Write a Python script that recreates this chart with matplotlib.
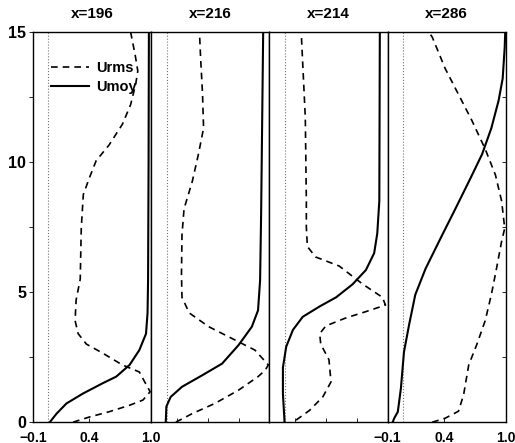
import numpy as np
import matplotlib
matplotlib.use('Agg')
import matplotlib.pyplot as plt
from matplotlib.ticker import MultipleLocator

plt.rcParams['font.family'] = ['Liberation Sans', 'DejaVu Sans']
plt.rcParams['font.weight'] = 'bold'

titles = ['x=196', 'x=216', 'x=214', 'x=286']

# Umoy (solid) profiles, value vs height
umoy_x = [
    [0.014, 0.08, 0.176, 0.336, 0.53, 0.66, 0.79, 0.885, 0.95, 0.965,
     0.97, 0.975, 0.978],
    [-0.008, -0.002, 0.04, 0.15, 0.346, 0.54, 0.70, 0.83, 0.89, 0.91,
     0.92, 0.94],
    [-0.002, -0.018, -0.018, 0.014, 0.08, 0.175, 0.34, 0.50, 0.66, 0.79,
     0.87, 0.90, 0.92, 0.925],
    [-0.10, -0.085, -0.05, -0.02, 0.01, 0.06, 0.12, 0.22, 0.37, 0.51,
     0.66, 0.77, 0.86, 0.93, 0.97, 0.99, 0.995],
]
umoy_y = [
    [0.0, 0.33, 0.72, 1.1, 1.5, 1.75, 2.2, 2.77, 3.4, 4.2,
     5.45, 10.0, 15.0],
    [0.0, 0.6, 0.97, 1.36, 1.8, 2.25, 2.96, 3.67, 4.3, 5.45,
     8.0, 15.0],
    [0.0, 1.1, 2.1, 2.9, 3.55, 4.05, 4.45, 4.8, 5.3, 5.85,
     6.5, 7.25, 8.5, 15.0],
    [0.0, 0.15, 0.4, 1.3, 2.7, 3.75, 4.9, 5.9, 7.1, 8.2,
     9.4, 10.3, 11.3, 12.35, 13.2, 14.4, 15.0],
]

# Urms (dashed) profiles
urms_x = [
    [0.24, 0.40, 0.59, 0.79, 0.92, 0.99, 0.93, 0.885, 0.72, 0.53, 0.37,
     0.29, 0.26, 0.27, 0.31, 0.32, 0.34, 0.40, 0.465, 0.59, 0.72, 0.80,
     0.85, 0.87, 0.845, 0.80],
    [0.09, 0.25, 0.47, 0.70, 0.89, 0.96, 0.99, 0.86, 0.67, 0.41, 0.22,
     0.15, 0.145, 0.15, 0.17, 0.25, 0.31, 0.36, 0.35, 0.33, 0.32],
    [0.11, 0.24, 0.37, 0.45, 0.43, 0.35, 0.34, 0.40, 0.59, 0.79, 0.98,
     0.95, 0.76, 0.53, 0.30, 0.22, 0.21, 0.21, 0.20, 0.16],
    [0.285, 0.41, 0.54, 0.59, 0.64, 0.72, 0.80, 0.86, 0.91, 0.96, 0.99,
     0.96, 0.90, 0.80, 0.67, 0.54, 0.41, 0.285, 0.25],
]
urms_y = [
    [0.0, 0.2, 0.4, 0.65, 0.85, 1.17, 1.6, 1.93, 2.2, 2.65, 3.0,
     3.4, 3.9, 4.7, 5.5, 7.45, 8.75, 9.4, 10.05, 10.65, 11.45, 12.2,
     13.0, 13.5, 14.1, 15.0],
    [0.0, 0.33, 0.72, 1.23, 1.75, 2.0, 2.2, 2.77, 3.15, 3.67, 4.2,
     4.8, 5.67, 7.2, 8.2, 9.25, 10.3, 11.3, 12.6, 14.1, 15.0],
    [0.08, 0.45, 0.97, 1.55, 2.4, 3.0, 3.4, 3.7, 4.0, 4.25, 4.5,
     4.8, 5.3, 6.0, 6.35, 6.75, 7.5, 8.5, 11.7, 15.0],
    [0.0, 0.15, 0.42, 1.05, 2.2, 3.0, 3.9, 4.9, 5.9, 6.95, 7.45,
     8.5, 9.5, 10.5, 11.6, 12.6, 13.6, 14.8, 15.0],
]

fig, axes = plt.subplots(1, 4, sharey=True, figsize=(5.15, 4.43), dpi=100)
fig.subplots_adjust(left=0.064, right=0.982, top=0.928, bottom=0.047,
                    wspace=0)

for i, ax in enumerate(axes):
    ax.axvline(0, color='0.45', lw=0.8, ls=':')
    ax.plot(urms_x[i], urms_y[i], color='k', ls='--', lw=1.2,
            dashes=(4, 3), label='Urms')
    ax.plot(umoy_x[i], umoy_y[i], color='k', ls='-', lw=1.5,
            label='Umoy')
    ax.set_xlim(-0.15, 1.0)
    ax.set_ylim(0, 15)
    ax.set_title(titles[i], fontsize=11, fontweight='bold', pad=10)
    ax.set_xticks([0.1, 0.4, 0.7])
    ax.set_xticklabels([])
    ax.tick_params(axis='x', direction='in', length=3, width=0.6)
    ax.tick_params(axis='y', which='both', left=False, right=False)
    for s in ax.spines.values():
        s.set_linewidth(1.0)

for ax in (axes[0], axes[3]):
    ax.set_xticks([-0.15, 0.4, 1.0])
    ax.set_xticklabels(['\u22120.1', '0.4', '1.0'], fontsize=10,
                       fontweight='bold')
    ax.tick_params(axis='x', direction='in', length=3, pad=6)

axes[0].yaxis.set_major_locator(MultipleLocator(5))
axes[0].yaxis.set_minor_locator(MultipleLocator(2.5))
axes[0].tick_params(axis='y', which='both', left=True, direction='out',
                    length=3, width=0.6, labelsize=11.5, pad=2)
for lab in axes[0].get_yticklabels():
    lab.set_fontweight('bold')
axes[3].tick_params(axis='y', which='both', right=True, direction='in',
                    length=3, width=0.6)

axes[0].legend(loc='upper left', bbox_to_anchor=(0.09, 0.945),
               frameon=False, borderpad=0, handlelength=2.6,
               handletextpad=0.5, labelspacing=0.35,
               prop={'weight': 'bold', 'size': 10.5})

fig.savefig('out.png', dpi=100)
